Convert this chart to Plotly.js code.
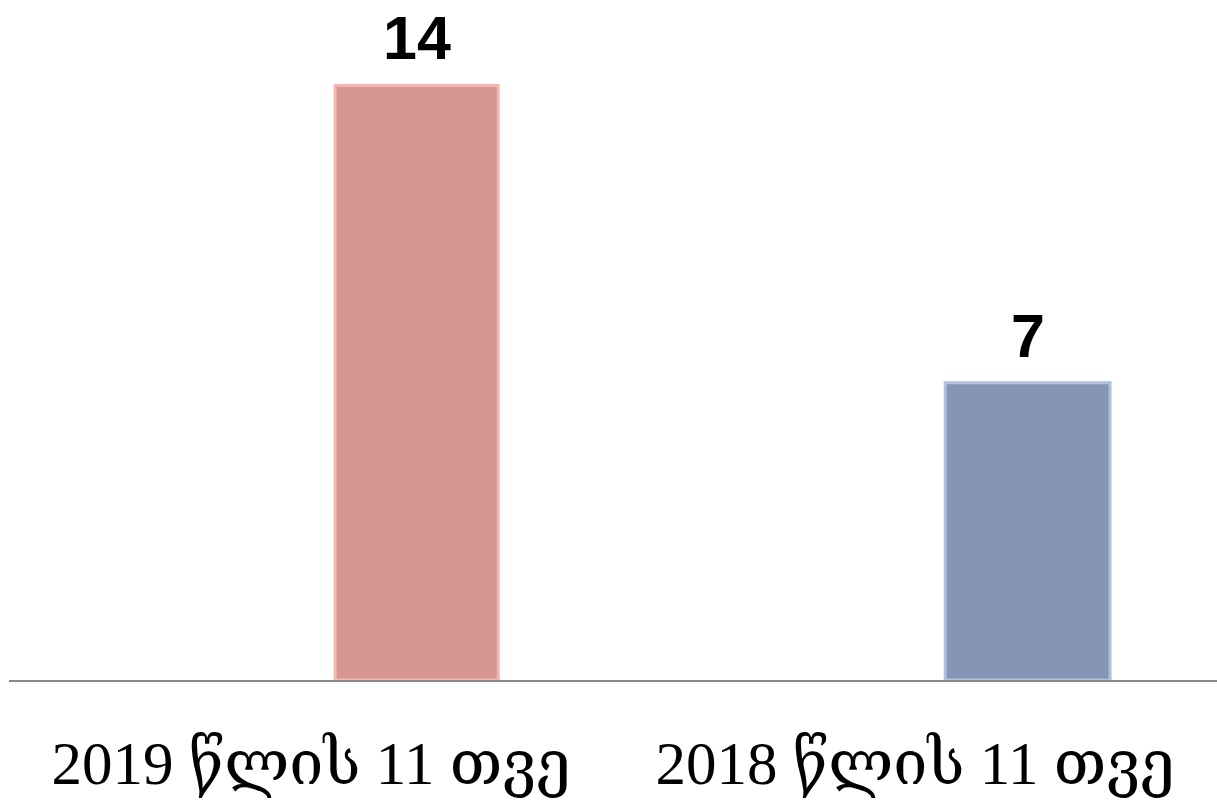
<!DOCTYPE html>
<html>
<head>
<meta charset="utf-8">
<script src="https://cdn.plot.ly/plotly-3.0.1.min.js"></script>
<style>html,body{margin:0;padding:0;background:#fff;}#chart{width:1217px;height:805px;}</style>
</head>
<body>
<div id="chart"></div>
<script>
const categories = ["2019 წლის 11 თვე", "2018 წლის 11 თვე"];
const values = [14, 7];
const valueLabels = ["14", "7"];
const barColors = ["#D69692", "#8595B5"];
const edgeColors = ["#F2B8B2", "#B3C0DA"];

const barOffsets = [0.04, 0.05];
const barWidths = [0.27, 0.273];

const trace = {
  type: "bar",
  x: categories,
  y: values,
  offset: barOffsets,
  width: barWidths,
  marker: {color: barColors, line: {color: edgeColors, width: 3}},
  hoverinfo: "skip"
};

const annotations = values.map((v, i) => ({
  x: i + barOffsets[i] + barWidths[i] / 2,
  y: v,
  xref: "x", yref: "y",
  text: "<b>" + valueLabels[i] + "</b>",
  showarrow: false,
  xanchor: "center", yanchor: "bottom",
  yshift: 11,
  font: {family: "Liberation Sans, Arial, sans-serif", size: 61, color: "#000"}
}));

const layout = {
  width: 1217, height: 805,
  margin: {l: 9, r: 0, t: 42.5, b: 125},
  paper_bgcolor: "#fff", plot_bgcolor: "#fff",
  showlegend: false,
  annotations: annotations,
  xaxis: {
    type: "category",
    range: [-0.5, 1.5],
    showline: true, linecolor: "#888888", linewidth: 2,
    showgrid: false, zeroline: false,
    ticks: "", ticklabelstandoff: 29,
    tickfont: {family: "Liberation Serif, DejaVu Serif, serif", size: 61, color: "#000"}
  },
  yaxis: {
    range: [0, 15],
    visible: false, showgrid: false, zeroline: false
  }
};

Plotly.newPlot("chart", [trace], layout, {staticPlot: true, displayModeBar: false});
</script>
</body>
</html>
